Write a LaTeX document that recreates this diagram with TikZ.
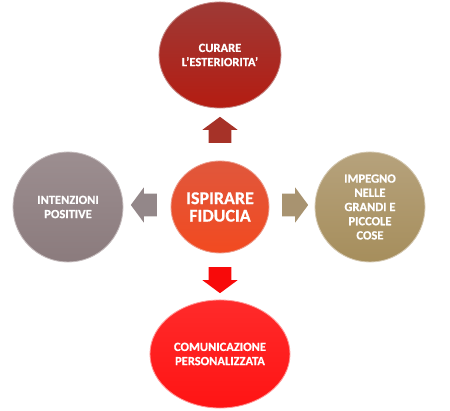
\documentclass[tikz,border=0pt]{standalone}
\usepackage{fontspec}
\setmainfont{Carlito}[BoldFeatures={FakeBold=0.6}]
\usetikzlibrary{shapes.geometric, shapes.arrows}

\definecolor{curaTop}{HTML}{9E3A36}
\definecolor{curaMid}{HTML}{891D1C}
\definecolor{curaBot}{HTML}{B41C12}
\definecolor{fidTop}{HTML}{E0573C}
\definecolor{fidMid}{HTML}{D23E1C}
\definecolor{fidBot}{HTML}{F24A20}
\definecolor{intTop}{HTML}{9C8E90}
\definecolor{intMid}{HTML}{837375}
\definecolor{intBot}{HTML}{8B7B7D}
\definecolor{impTop}{HTML}{B6A27C}
\definecolor{impMid}{HTML}{9A8250}
\definecolor{impBot}{HTML}{A68E5C}
\definecolor{comTop}{HTML}{FF2A2A}
\definecolor{comMid}{HTML}{F20000}
\definecolor{comBot}{HTML}{FF1414}
\definecolor{arrUp}{HTML}{A63228}
\definecolor{arrDown}{HTML}{F80A0A}
\definecolor{arrLeft}{HTML}{938789}
\definecolor{arrRight}{HTML}{A89370}

\begin{document}
\begin{tikzpicture}[
    x=0.025cm, y=-0.025cm,
    bubble/.style={inner sep=0pt, align=center, text=white,
        font=\fontsize{8.9}{10.1}\selectfont\bfseries, line width=0.6pt},
    bigbubble/.style={bubble, font=\fontsize{12.8}{12.4}\selectfont\bfseries},
    blockarrow/.style={single arrow, inner xsep=0pt, inner ysep=0.275cm,
        minimum height=0.65cm, single arrow head extend=0.16cm,
        single arrow tip angle=107}
]
\useasboundingbox (0,0) rectangle (450,411);

% Circles
\node[bubble, ellipse, minimum width=3.05cm, minimum height=2.65cm,
    top color=curaTop, middle color=curaMid, bottom color=curaBot,
    draw=curaTop!60!white] (curare) at (220,55) {CURARE\\L'ESTERIORITA'};

\node[bigbubble, ellipse, minimum width=2.45cm, minimum height=2.3cm,
    top color=fidTop, middle color=fidMid, bottom color=fidBot,
    draw=fidTop!60!white] (fiducia) at (220,207) {ISPIRARE\\FIDUCIA};

\node[bubble, circle, minimum size=2.75cm,
    top color=intTop, middle color=intMid, bottom color=intBot,
    draw=intTop!60!white] (intenzioni) at (68,207) {INTENZIONI\\POSITIVE};

\node[bubble, circle, minimum size=2.75cm,
    top color=impTop, middle color=impMid, bottom color=impBot,
    draw=impTop!60!white] (impegno) at (370,207) {IMPEGNO\\NELLE\\GRANDI E\\PICCOLE\\COSE};

\node[bubble, ellipse, minimum width=3.5cm, minimum height=2.7cm,
    top color=comTop, middle color=comMid, bottom color=comBot,
    draw=comTop!50!white] (comunicazione) at (220,354) {COMUNICAZIONE\\PERSONALIZZATA};

% Block arrows
\node[blockarrow, rotate=90, fill=arrUp] (up) at (220,134) {};
\node[blockarrow, rotate=-90, fill=arrDown] (down) at (220,276) {};
\node[blockarrow, rotate=180, fill=arrLeft] (left) at (148,205) {};
\node[blockarrow, fill=arrRight] (right) at (291,205) {};

\end{tikzpicture}
\end{document}
